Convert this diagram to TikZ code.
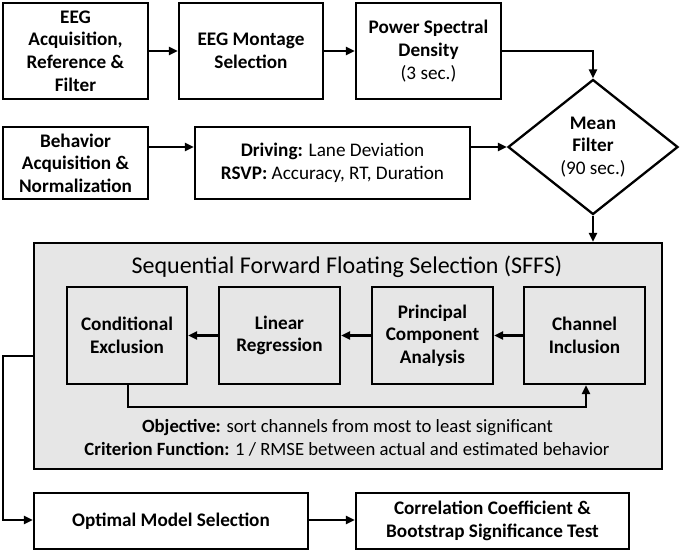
\documentclass[tikz,border=0pt]{standalone}
\usepackage{fontspec}
\setmainfont{Carlito}
\usetikzlibrary{arrows.meta,shapes.geometric}
\definecolor{panelgray}{HTML}{E6E6E6}
\begin{document}
\begin{tikzpicture}[x=1pt,y=-1pt,
  box/.style={draw=black,line width=2.3pt,fill=white,rectangle,inner sep=0pt,align=center,
    font=\fontsize{19.2}{22.6}\selectfont\bfseries},
  gbox/.style={box,fill=panelgray},
  dia/.style={draw=black,line width=2.3pt,fill=white,shape=diamond,aspect=1.26,inner sep=0pt,
    minimum width=170pt,minimum height=135pt,align=center,font=\fontsize{19.2}{22.6}\selectfont\bfseries},
  conn/.style={line width=2.3pt,-{Triangle[length=9pt,width=8pt]}},
  txt/.style={inner sep=0pt,align=center,font=\fontsize{18.7}{22}\selectfont}
]
\useasboundingbox (0,0) rectangle (680,552);
% top row
\node[box,minimum width=145pt,minimum height=96pt] (eeg) at (75.5,51) {EEG\\Acquisition,\\Reference \&\\Filter};
\node[box,minimum width=144pt,minimum height=96pt] (mont) at (251,51) {EEG Montage\\Selection};
\node[box,minimum width=145pt,minimum height=96pt] (psd) at (428.5,51) {Power Spectral\\Density\\\mdseries(3 sec.)};
% second row
\node[box,minimum width=145pt,minimum height=72pt] (beh) at (75.5,163) {Behavior\\Acquisition \&\\Normalization};
\node[box,minimum width=275pt,minimum height=72pt] (meas) at (332.5,163) {Driving: \mdseries Lane Deviation\\RSVP: \mdseries Accuracy, RT, Duration};
\node[dia] (mean) at (593,147) {Mean\\Filter\\\mdseries(90 sec.)};
% SFFS panel
\node[gbox,minimum width=628pt,minimum height=226pt] (sffs) at (348,356) {};
\node[txt,font=\fontsize{24}{28}\selectfont] (title) at (347,267) {Sequential Forward Floating Selection (SFFS)};
\node[gbox,minimum width=120pt,minimum height=97pt] (cond) at (127,335.5) {Conditional\\Exclusion};
\node[gbox,minimum width=121pt,minimum height=97pt] (lin) at (279.5,335.5) {Linear\\Regression};
\node[gbox,minimum width=121pt,minimum height=97pt] (pca) at (432.5,335.5) {Principal\\Component\\Analysis};
\node[gbox,minimum width=121pt,minimum height=97pt] (chan) at (584.5,335.5) {Channel\\Inclusion};
\node[txt] (obj) at (347.5,428) {\textbf{Objective:} sort channels from most to least significant};
\node[txt] (crit) at (347,449) {\textbf{Criterion Function:} 1 / RMSE between actual and estimated behavior};
% bottom row
\node[box,minimum width=274pt,minimum height=56pt] (opt) at (171,521) {Optimal Model Selection};
\node[box,minimum width=273pt,minimum height=56pt] (corr) at (492.5,521) {Correlation Coefficient \&\\Bootstrap Significance Test};
% coordinates
\coordinate (fbl) at (128,407);
\coordinate (fbr) at (586,407);
\coordinate (lt) at (3,356);
\coordinate (lb) at (3,520);
% connectors
\draw[conn] (eeg.east) -- (mont.west);
\draw[conn] (mont.east) -- (psd.west);
\draw[conn] (psd.east) -| (mean.north);
\draw[conn] (beh.east |- mean.west) -- (meas.west |- mean.west);
\draw[conn] (meas.east |- mean.west) -- (mean.west);
\draw[conn] (mean.south) -- (sffs.north -| mean.south);
\draw[conn] (chan.west) -- (pca.east);
\draw[conn] (pca.west) -- (lin.east);
\draw[conn] (lin.west) -- (cond.west -| cond.east);
\draw[conn] (cond.south -| fbl) -- (fbl) -- (fbr) -- (chan.south -| fbr);
\draw[conn] (sffs.west |- lt) -- (lt) -- (lb) -- (opt.west |- lb);
\draw[conn] (opt.east |- lb) -- (corr.west |- lb);
\end{tikzpicture}
\end{document}
